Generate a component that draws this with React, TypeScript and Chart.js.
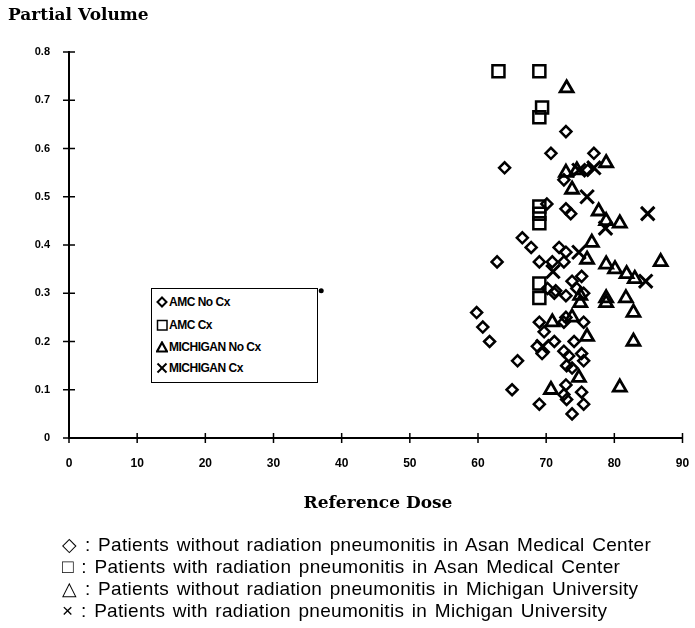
import React, { useEffect, useRef } from "react";
import { Chart, registerables } from "chart.js";

Chart.register(...registerables);

const X_TICKS = [0, 10, 20, 30, 40, 50, 60, 70, 80, 90];
const Y_TICKS = [0, 0.1, 0.2, 0.3, 0.4, 0.5, 0.6, 0.7, 0.8];

const SERIES_NAMES = ["AMC No Cx", "AMC Cx", "MICHIGAN No Cx", "MICHIGAN Cx"];

const AMC_NO_CX_X = [72.9, 70.7, 77.0, 63.9, 72.6, 72.9, 73.6, 66.5, 67.8, 62.8, 69.0, 71.9, 72.9, 70.9, 72.6, 75.2, 73.8, 71.4, 59.8, 60.7, 61.7, 65.8, 65.0, 69.0, 69.0, 69.7, 71.2, 68.7, 69.4, 72.9, 72.6, 75.5, 74.1, 72.6, 73.3, 75.2, 75.5, 73.0, 73.8, 72.9, 72.6, 73.0, 75.2, 75.5, 73.8, 71.2, 72.9, 74.5, 75.5, 70.2, 76.1, 70.1];
const AMC_NO_CX_Y = [0.635, 0.59, 0.59, 0.56, 0.535, 0.475, 0.465, 0.415, 0.395, 0.365, 0.365, 0.395, 0.385, 0.365, 0.365, 0.335, 0.325, 0.305, 0.26, 0.23, 0.2, 0.16, 0.10, 0.24, 0.07, 0.22, 0.2, 0.19, 0.175, 0.25, 0.24, 0.24, 0.2, 0.18, 0.17, 0.175, 0.16, 0.15, 0.145, 0.11, 0.09, 0.08, 0.095, 0.07, 0.05, 0.30, 0.295, 0.31, 0.30, 0.31, 0.555, 0.485];

const AMC_CX_X = [63.0, 69.0, 69.4, 69.0, 69.0, 69.0, 69.0, 69.0, 69.0];
const AMC_CX_Y = [0.76, 0.76, 0.685, 0.665, 0.48, 0.465, 0.445, 0.32, 0.29];

const MICH_NO_CX_X = [73.0, 78.8, 72.9, 74.5, 73.8, 77.7, 78.8, 80.8, 76.7, 76.0, 78.8, 80.1, 81.8, 83.0, 86.8, 78.8, 78.8, 81.7, 82.8, 82.8, 80.8, 70.7, 70.9, 73.8, 76.0, 74.8, 75.0, 75.0];
const MICH_NO_CX_Y = [0.725, 0.57, 0.55, 0.555, 0.515, 0.47, 0.45, 0.445, 0.405, 0.37, 0.36, 0.35, 0.34, 0.33, 0.365, 0.29, 0.28, 0.29, 0.26, 0.20, 0.105, 0.10, 0.24, 0.25, 0.21, 0.125, 0.295, 0.28];

const MICH_CX_X = [74.8, 77.0, 76.0, 84.9, 78.7, 74.8, 71.0, 84.6, 69.5];
const MICH_CX_Y = [0.555, 0.56, 0.50, 0.465, 0.435, 0.385, 0.345, 0.325, 0.19];

const STRAY_X = [37.0];
const STRAY_Y = [0.305];

const CAPTION = [
  "\u25C7 : Patients without radiation pneumonitis in Asan Medical Center",
  "\u25A1 : Patients with radiation pneumonitis in Asan Medical Center",
  "\u25B3 : Patients without radiation pneumonitis in Michigan University",
  "\u00D7 : Patients with radiation pneumonitis in Michigan University",
];

const zip = (xs: number[], ys: number[]) => xs.map((x, i) => ({ x, y: ys[i] }));

const TICK_FONT = { family: '"Liberation Sans Narrow", "Liberation Sans", Arial, sans-serif', weight: "bold" as const, size: 12 };

const crossTicks = {
  id: "crossTicks",
  afterDraw(chart: any) {
    const { ctx, chartArea } = chart;
    const xs = chart.scales.x;
    const ys = chart.scales.y;
    ctx.save();
    ctx.strokeStyle = "#000";
    ctx.lineWidth = 1.5;
    X_TICKS.forEach((v) => {
      const px = xs.getPixelForValue(v);
      ctx.beginPath();
      ctx.moveTo(px, chartArea.bottom - 5);
      ctx.lineTo(px, chartArea.bottom + 5);
      ctx.stroke();
    });
    Y_TICKS.forEach((v) => {
      const py = ys.getPixelForValue(v);
      ctx.beginPath();
      ctx.moveTo(chartArea.left - 6, py);
      ctx.lineTo(chartArea.left + 6, py);
      ctx.stroke();
    });
    ctx.restore();
  },
};

function Marker({ kind }: { kind: number }) {
  const s = { stroke: "#000", strokeWidth: 2, fill: "none" };
  return (
    <svg width={12} height={12} viewBox="0 0 12 12" style={{ display: "block" }}>
      {kind === 0 && <polygon points="6,1.5 10.5,6 6,10.5 1.5,6" {...s} />}
      {kind === 1 && <rect x={1.5} y={1.5} width={9.5} height={9.5} {...s} strokeWidth={1.5} />}
      {kind === 2 && <polygon points="6,1.5 11,10.5 1,10.5" {...s} strokeWidth={2.2} />}
      {kind === 3 && (
        <g {...s}>
          <line x1={1.5} y1={1.5} x2={10.5} y2={10.5} />
          <line x1={10.5} y1={1.5} x2={1.5} y2={10.5} />
        </g>
      )}
    </svg>
  );
}

export default function App() {
  const ref = useRef<HTMLCanvasElement>(null);

  useEffect(() => {
    if (!ref.current) return;
    const common = { borderColor: "#000", backgroundColor: "rgba(0,0,0,0)" };
    const chart = new Chart(ref.current, {
      type: "scatter",
      data: {
        datasets: [
          { label: SERIES_NAMES[0], data: zip(AMC_NO_CX_X, AMC_NO_CX_Y), pointStyle: "rectRot", pointRadius: 5.5, borderWidth: 2.5, ...common },
          { label: SERIES_NAMES[1], data: zip(AMC_CX_X, AMC_CX_Y), pointStyle: "rect", pointRadius: 8.5, borderWidth: 2.5, ...common },
          { label: SERIES_NAMES[2], data: zip(MICH_NO_CX_X, MICH_NO_CX_Y), pointStyle: "triangle", pointRadius: 7.5, borderWidth: 2.8, ...common },
          { label: SERIES_NAMES[3], data: zip(MICH_CX_X, MICH_CX_Y), pointStyle: "crossRot", pointRadius: 9.5, borderWidth: 3, ...common },
          { label: "", data: zip(STRAY_X, STRAY_Y), pointStyle: "circle", pointRadius: 2.5, borderWidth: 0, borderColor: "#000", backgroundColor: "#000" },
        ],
      },
      options: {
        responsive: false,
        animation: false,
        layout: { padding: { left: 0, top: 52, right: 6, bottom: 150 } },
        plugins: { legend: { display: false }, tooltip: { enabled: false } },
        scales: {
          x: {
            type: "linear",
            min: 0,
            max: 90,
            afterBuildTicks: (s: any) => { s.ticks = X_TICKS.map((v) => ({ value: v })); },
            afterFit: (s: any) => { s.height = 40; s.paddingLeft = 0; s.paddingRight = 0; },
            grid: { display: true, drawOnChartArea: false, drawTicks: false },
            border: { display: true, color: "#000", width: 2 },
            ticks: { color: "#000", font: TICK_FONT, padding: 18, maxRotation: 0, autoSkip: false },
          },
          y: {
            type: "linear",
            min: 0,
            max: 0.8,
            afterBuildTicks: (s: any) => { s.ticks = Y_TICKS.map((v) => ({ value: v })); },
            afterFit: (s: any) => { s.width = 69; s.paddingTop = 0; s.paddingBottom = 0; },
            grid: { display: true, drawOnChartArea: false, drawTicks: false },
            border: { display: true, color: "#000", width: 2 },
            ticks: { color: "#000", font: { ...TICK_FONT, size: 11 }, padding: 19, autoSkip: false },
          },
        },
      },
      plugins: [crossTicks],
    });
    return () => chart.destroy();
  }, []);

  const serif = '"DejaVu Serif", "Liberation Serif", serif';
  const legendFont = '"Liberation Sans Narrow", "Liberation Sans", Arial, sans-serif';
  const rowTops = [6, 29, 51, 72];

  return (
    <div style={{ position: "absolute", left: 0, top: 0, width: 695, height: 628, background: "#fff", overflow: "hidden" }}>
      <canvas ref={ref} width={695} height={628} style={{ position: "absolute", left: 0, top: 0 }} />
      <div style={{ position: "absolute", left: 8, top: 4, fontFamily: serif, fontWeight: "bold", fontSize: 17, color: "#000", whiteSpace: "nowrap" }}>
        Partial Volume
      </div>
      <div style={{ position: "absolute", left: 0, width: 756, top: 492, textAlign: "center", fontFamily: serif, fontWeight: "bold", fontSize: 17, color: "#000", whiteSpace: "nowrap" }}>
        Reference Dose
      </div>
      <div style={{ position: "absolute", left: 151, top: 288, width: 165, height: 93, border: "1.5px solid #000", background: "#fff" }}>
        {SERIES_NAMES.map((name, i) => (
          <div key={name} style={{ position: "absolute", left: 4, top: rowTops[i], display: "flex", alignItems: "center", height: 14 }}>
            <Marker kind={i} />
            <span style={{ fontFamily: legendFont, fontWeight: "bold", fontSize: 12, letterSpacing: -0.5, marginLeft: 1, color: "#000", whiteSpace: "nowrap" }}>
              {name}
            </span>
          </div>
        ))}
      </div>
      <div style={{ position: "absolute", left: 62, top: 534, fontFamily: '"Liberation Sans", Arial, sans-serif', fontSize: 19, letterSpacing: 0.3, wordSpacing: 2, lineHeight: "22px", color: "#000", whiteSpace: "nowrap" }}>
        {CAPTION.map((t) => (
          <div key={t}>{t}</div>
        ))}
      </div>
    </div>
  );
}
